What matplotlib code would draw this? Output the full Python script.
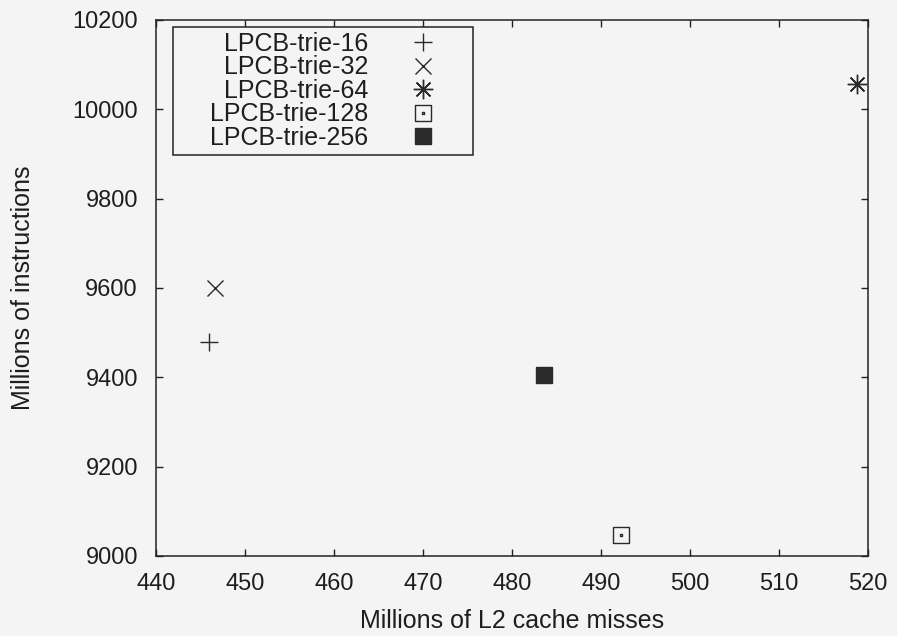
import matplotlib
matplotlib.use('Agg')
import matplotlib.pyplot as plt
from matplotlib.path import Path

# data
labels = ['LPCB-trie-16', 'LPCB-trie-32', 'LPCB-trie-64', 'LPCB-trie-128', 'LPCB-trie-256']
l2_misses = [446.0, 446.6, 518.8, 492.2, 483.6]
instructions = [9480, 9600, 10056, 9046, 9405]
xticks = [440, 450, 460, 470, 480, 490, 500, 510, 520]
yticks = [9000, 9200, 9400, 9600, 9800, 10000, 10200]

# gnuplot style markers: plus, cross, asterisk, open box with dot, filled box
box_dot = Path([(-1, -1), (1, -1), (1, 1), (-1, 1), (-1, -1),
                (-0.07, -0.07), (0.07, -0.07), (0.07, 0.07), (-0.07, 0.07), (-0.07, -0.07)],
               [Path.MOVETO, Path.LINETO, Path.LINETO, Path.LINETO, Path.CLOSEPOLY,
                Path.MOVETO, Path.LINETO, Path.LINETO, Path.LINETO, Path.CLOSEPOLY])
styles = [
    dict(marker='+', ms=13, mfc='none'),
    dict(marker='x', ms=11, mfc='none'),
    dict(marker=(8, 2, 0), ms=14, mfc='none'),
    dict(marker=box_dot, ms=11, mfc='none'),
    dict(marker='s', ms=11, mfc='#2a2a2a'),
]

bg = '#f4f4f5'
plt.rcParams['font.family'] = ['Liberation Sans', 'DejaVu Sans']

fig = plt.figure(figsize=(8.97, 6.36), dpi=100, facecolor=bg)
ax = fig.add_axes([0.1739, 0.1258, 0.7938, 0.8428], facecolor=bg)

for i in range(len(labels)):
    ax.plot([l2_misses[i]], [instructions[i]], linestyle='none', color='#2a2a2a',
            mec='#2a2a2a', mew=1.0, label=labels[i], **styles[i])

ax.set_xlim(440, 520)
ax.set_ylim(9000, 10200)
ax.set_xticks(xticks)
ax.set_yticks(yticks)
ax.tick_params(direction='in', top=True, right=True, length=5, width=1.0,
               color='#222222', labelsize=17, labelcolor='#1e1e1e')
ax.tick_params(axis='x', pad=12.5)
ax.tick_params(axis='y', pad=13)
for s in ax.spines.values():
    s.set_linewidth(1.1)
    s.set_color('#222222')

ax.set_xlabel('Millions of L2 cache misses', fontsize=18, labelpad=10, color='#1e1e1e')
ax.set_ylabel('Millions of instructions', fontsize=18, labelpad=27, color='#1e1e1e')

leg = ax.legend(loc='upper left', bbox_to_anchor=(0.0239, 0.987), borderaxespad=0,
                markerfirst=False, numpoints=1, fontsize=18, handlelength=3.6,
                handletextpad=0.4, borderpad=0.2, labelspacing=-0.02,
                fancybox=False, framealpha=1, facecolor=bg, edgecolor='#222222')
leg.get_frame().set_linewidth(1.1)
for t in leg.get_texts():
    t.set_color('#1e1e1e')
# right-align the rows like gnuplot does, fixed column width
for col in leg._legend_handle_box.get_children():
    col.align = 'right'
    col.width = 290

fig.savefig('out.png', dpi=100, facecolor=bg)
